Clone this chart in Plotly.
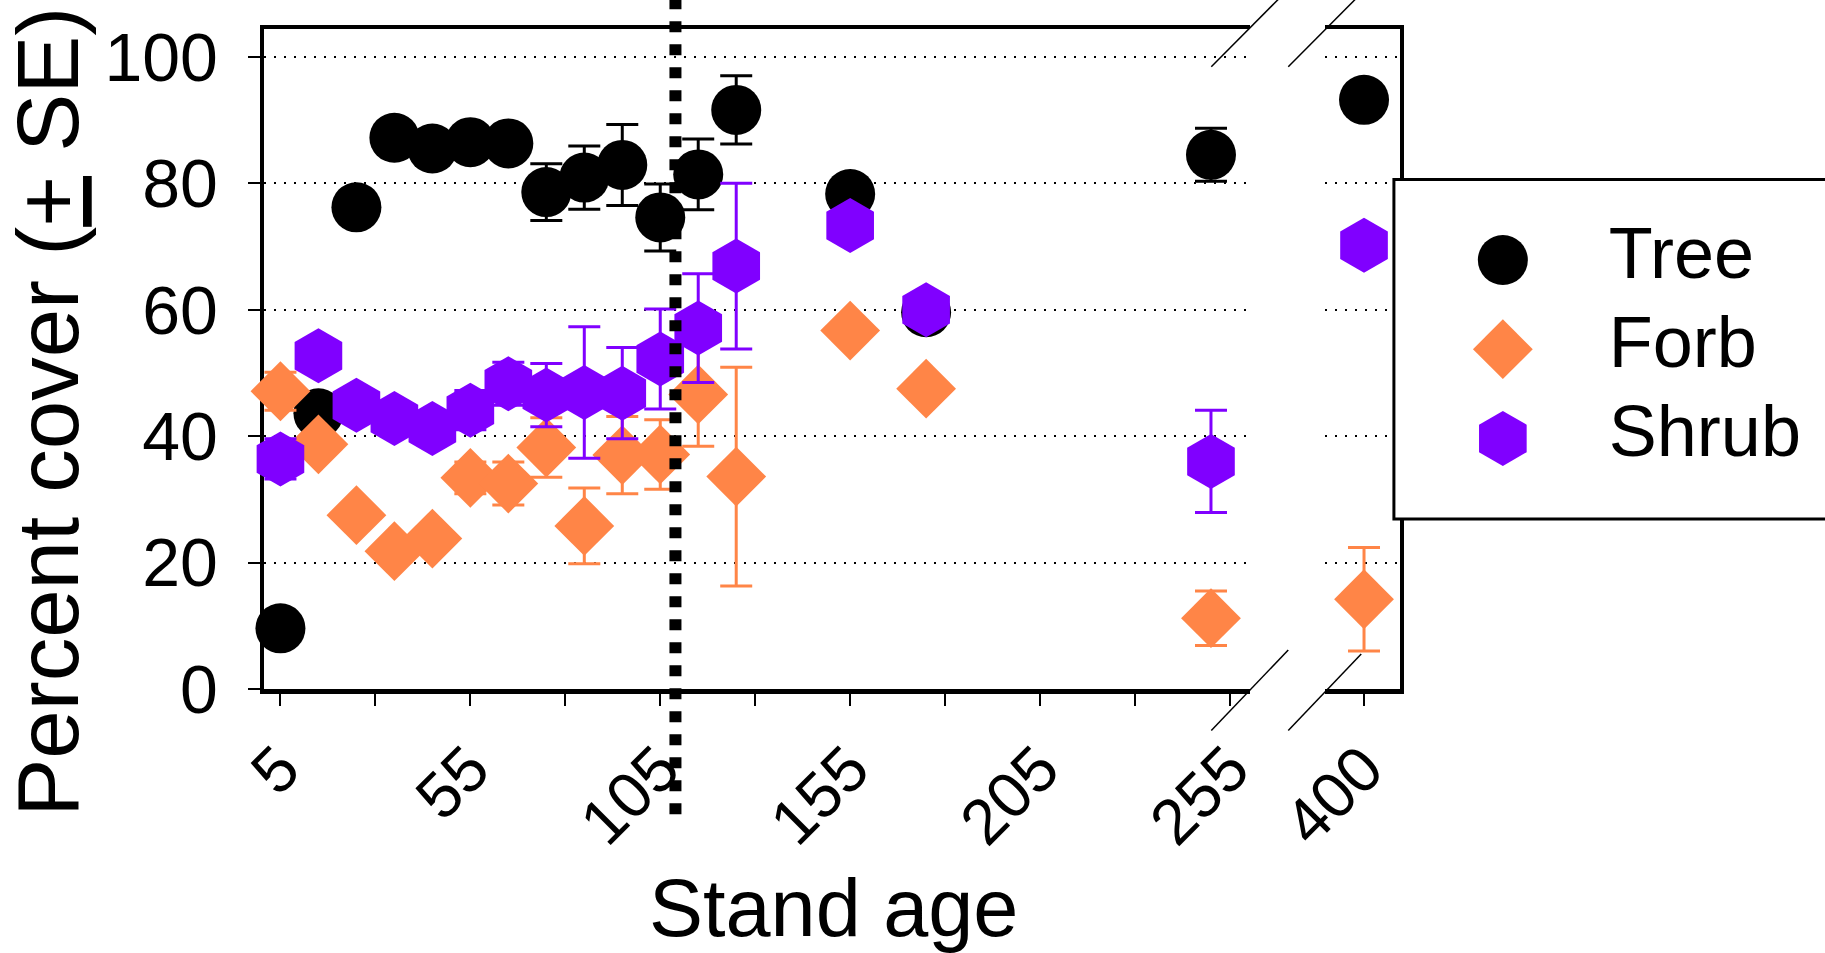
import plotly.graph_objects as go

# ---------------- data ----------------
ages = [5, 15, 25, 35, 45, 55, 65, 75, 85, 95, 105, 115, 125, 155, 175, 250, 400]

tree = [9.6, 43.6, 76.2, 87.2, 85.5, 86.5, 86.3, 78.6, 80.9, 82.9, 74.6, 81.4, 91.6, 78.3, 59.6, 84.5, 93.2]
tree_se = [None, None, None, None, None, None, None, 4.5, 5.0, 6.4, 5.3, 5.6, 5.4, None, None, 4.2, None]

forb = [47.1, 38.7, 27.5, 21.8, 23.8, 33.4, 32.5, 38.2, 25.8, 37.0, 37.1, 46.6, 33.6, 56.7, 47.5, 11.2, 14.2]
forb_se = [3.0, None, None, None, None, 2.5, 3.4, 4.7, 6.0, 6.1, 5.5, 8.2, 17.3, None, None, 4.3, 8.2]

shrub = [36.4, 52.7, 44.9, 42.8, 41.2, 44.1, 48.3, 46.5, 46.9, 46.8, 52.2, 57.1, 66.9, 73.3, 60.0, 36.0, 70.2]
shrub_se = [3.2, None, None, None, None, 3.1, 3.4, 5.0, 10.4, 7.2, 7.9, 8.6, 13.1, None, None, 8.1, None]

series_names = ["Tree", "Forb", "Shrub"]

x_tickvals_left = [5, 55, 105, 155, 205, 255]
x_minor_left = [30, 80, 130, 180, 230]
x_tickvals_right = [400]
y_tickvals = [0, 20, 40, 60, 80, 100]

divide_age = 109        # dashed reference line
break_age = 300         # ages beyond the axis break go to the right segment

# ---------------- styles ----------------
colors = {"Tree": "#000000", "Forb": "#FF8547", "Shrub": "#8000FF"}
symbols = {"Tree": "circle", "Forb": "diamond", "Shrub": "hexagon"}
sizes = {"Tree": 50, "Forb": 46, "Shrub": 55}
FONT = "Liberation Sans, Arial, sans-serif"

# ---------------- geometry (pixels) ----------------
# the page is photographed slightly wider than 1825 px and then fitted to 1825,
# so horizontal layout positions are stretched by XS to land where intended.
REF_W = 1825
W, H = 1838, 953
XS = W / REF_W
L = 262.25 * XS
T, B, R = 28.7, 263.5, 0
PW = W - L - R
PH = H - T - B


def px_x(p):
    return (p * XS - L) / PW


def px_y(p):
    return (H - B - p) / PH


x_dom = [0, px_x(1249.2)]
x2_dom = [px_x(1323.3), px_x(1398.5)]
leg_x_dom = [px_x(1385), 1]
leg_y_dom = [px_y(530), px_y(170)]

fig = go.Figure()

values = {"Tree": (tree, tree_se), "Forb": (forb, forb_se), "Shrub": (shrub, shrub_se)}
for name in series_names:
    vals, se = values[name]
    for seg, (xa, ya) in enumerate([("x", "y"), ("x2", "y2")]):
        idx = [i for i, a in enumerate(ages) if (a < break_age) == (seg == 0)]
        fig.add_trace(go.Scatter(
            x=[ages[i] for i in idx],
            y=[vals[i] for i in idx],
            mode="markers",
            name=name,
            marker=dict(symbol=symbols[name], size=sizes[name], color=colors[name],
                        opacity=1, line=dict(width=0)),
            error_y=dict(type="data", array=[se[i] for i in idx], visible=True,
                         color=colors[name], thickness=3, width=16),
            xaxis=xa, yaxis=ya, showlegend=False, cliponaxis=False,
        ))

# ---------------- hand-built legend (large symbols) ----------------
leg_marker_x = 109
leg_text_x = 215
leg_row0 = 80.7
leg_gap = 89.3
leg_rows = [leg_row0 + k * leg_gap for k in range(len(series_names))]
fig.add_trace(go.Scatter(
    x=[leg_marker_x] * len(series_names), y=leg_rows, mode="markers",
    marker=dict(symbol=[symbols[n] for n in series_names],
                size=[sizes[n] for n in series_names],
                color=[colors[n] for n in series_names], opacity=1,
                line=dict(width=0)),
    xaxis="x3", yaxis="y3", showlegend=False, hoverinfo="skip", cliponaxis=False,
))
fig.add_trace(go.Scatter(
    x=[leg_text_x] * len(series_names), y=leg_rows, mode="text",
    text=series_names, textposition="middle right",
    textfont=dict(family=FONT, size=72, color="black"),
    xaxis="x3", yaxis="y3", showlegend=False, hoverinfo="skip", cliponaxis=False,
))

axis_common = dict(showline=True, linecolor="black", linewidth=4.5, layer="below traces",
                   zeroline=False, color="black")
grid_style = dict(showgrid=True, gridcolor="black", gridwidth=2, griddash="2px,8px")

fig.update_layout(
    width=W, height=H, autosize=False,
    margin=dict(l=L, r=R, t=T, b=B, pad=0),
    paper_bgcolor="white", plot_bgcolor="rgba(0,0,0,0)",
    showlegend=False, hovermode=False,
    font=dict(family=FONT, color="black"),
    xaxis=dict(domain=x_dom, range=[0.67, 260.4], anchor="y", mirror=True,
               tickmode="array", tickvals=x_tickvals_left,
               ticktext=[str(v) for v in x_tickvals_left],
               ticks="outside", ticklen=12, tickwidth=2, tickcolor="black",
               tickangle=-45, tickfont=dict(size=64, family=FONT),
               minor=dict(tickvals=x_minor_left, ticks="outside", ticklen=12,
                          tickwidth=2, tickcolor="black", showgrid=False),
               showgrid=False, **axis_common),
    xaxis2=dict(domain=x2_dom, range=[389.6, 409.4], anchor="y2", mirror=True,
                tickmode="array", tickvals=x_tickvals_right,
                ticktext=[str(v) for v in x_tickvals_right],
                ticks="outside", ticklen=12, tickwidth=2, tickcolor="black",
                tickangle=-45, tickfont=dict(size=64, family=FONT),
                showgrid=False, **axis_common),
    yaxis=dict(domain=[0, 1], range=[0, 104.4], anchor="x",
               tickmode="array", tickvals=y_tickvals,
               ticks="outside", ticklen=12, tickwidth=2, tickcolor="black",
               tickfont=dict(size=68, family=FONT), ticklabelstandoff=16,
               **grid_style, **axis_common),
    yaxis2=dict(domain=[0, 1], matches="y", anchor="x2", side="right",
                tickmode="array", tickvals=y_tickvals, ticks="", showticklabels=False,
                **grid_style, **axis_common),
    xaxis3=dict(domain=leg_x_dom, range=[1385 - 1392.7, REF_W - 1392.7], anchor="y3",
                visible=False, fixedrange=True),
    yaxis3=dict(domain=leg_y_dom, range=[530 - 179.3, 170 - 179.3], anchor="x3",
                visible=False, fixedrange=True),
)

shapes = []
# legend frame
shapes.append(dict(type="rect", xref="x3", yref="y3", x0=0, x1=470, y0=0, y1=340,
                   line=dict(color="black", width=3), fillcolor="white", layer="below"))
# vertical dashed divider
shapes.append(dict(type="line", xref="x", yref="paper", x0=divide_age, x1=divide_age,
                   y0=px_y(815), y1=px_y(-5),
                   line=dict(color="black", width=12, dash="11px,12px"), layer="above"))
# axis-break slashes
for (x0, y0, x1, y1) in [(1210, 66.5, 1281, -5), (1287, 66.5, 1358, -5),
                         (1210, 731, 1287, 650.5), (1287, 731, 1360, 654.4)]:
    shapes.append(dict(type="line", xref="paper", yref="paper",
                       x0=px_x(x0), y0=px_y(y0), x1=px_x(x1), y1=px_y(y1),
                       line=dict(color="black", width=1.5), layer="above"))
fig.update_layout(shapes=shapes)

fig.add_annotation(text="Stand age", xref="paper", yref="paper",
                   x=px_x(832), y=px_y(909), showarrow=False,
                   xanchor="center", yanchor="middle",
                   font=dict(size=81, family=FONT, color="black"))
fig.add_annotation(text="Percent cover (<u>+</u> SE)", xref="paper", yref="paper",
                   x=px_x(46), y=px_y(412), showarrow=False, textangle=-90,
                   xanchor="center", yanchor="middle",
                   font=dict(size=87, family=FONT, color="black"))

fig.write_html(
    "out.html",
    config={"displayModeBar": False, "staticPlot": True},
    post_script=("document.documentElement.style.overflow='hidden';"
                 "document.body.style.margin='0px';"
                 "document.body.style.overflow='hidden';"),
)
